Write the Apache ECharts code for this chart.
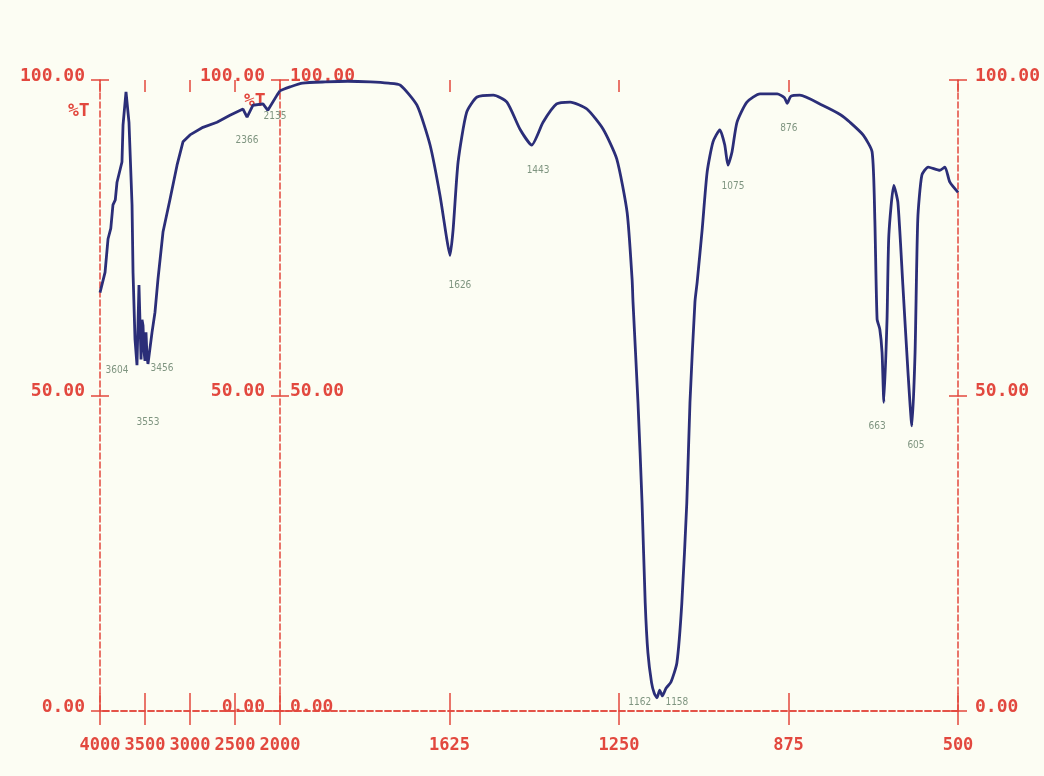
<!DOCTYPE html>
<html>
<head>
<meta charset="utf-8">
<script src="https://cdn.jsdelivr.net/npm/echarts@6/dist/echarts.min.js"></script>
<style>
  html, body { margin: 0; padding: 0; background: #fcfdf3; }
  #main { width: 1044px; height: 776px; }
</style>
</head>
<body>
<div id="main"></div>
<script>
// wavenumber (cm-1) / %T, 4000-2000 part (compressed scale)
var highWn = [4000, 3944, 3911, 3880, 3856, 3830, 3811, 3756, 3744, 3711, 3678, 3644, 3633, 3611, 3589, 3567, 3544, 3533, 3522, 3511, 3500, 3489, 3478, 3467, 3456, 3422, 3389, 3356, 3300, 3222, 3144, 3078, 3000, 2856, 2700, 2556, 2411, 2366, 2300, 2189, 2135, 2033, 2000];
var highT  = [66.3, 69.5, 74.8, 76.5, 80.2, 81.0, 83.8, 87.0, 92.9, 98.1, 93.3, 80.2, 69.5, 58.9, 54.8, 67.5, 55.7, 62.0, 61.1, 57.0, 55.5, 60.0, 56.3, 55.0, 54.8, 60.0, 63.2, 68.4, 75.9, 81.1, 86.5, 90.2, 91.3, 92.5, 93.3, 94.4, 95.4, 94.1, 96.0, 96.2, 95.2, 97.6, 98.3];
// 2000-500 part
var lowWn = [2000, 1978, 1950, 1900, 1850, 1800, 1760, 1734, 1697, 1668, 1646, 1631, 1624, 1617, 1606, 1587, 1564, 1528, 1498, 1469, 1443, 1418, 1388, 1358, 1321, 1285, 1255, 1232, 1221, 1219, 1208, 1199, 1192, 1186, 1178, 1172, 1166, 1160, 1154, 1146, 1135, 1122, 1111, 1100, 1093, 1082, 1077, 1066, 1055, 1042, 1027, 1016, 1009, 1000, 989, 967, 938, 900, 884, 878, 870, 850, 800, 760, 739, 710, 690, 684, 679, 673, 668, 664, 657, 653, 642, 633, 622, 611, 602, 595, 589, 580, 566, 540, 529, 518, 500];
var lowT  = [98.3, 98.9, 99.5, 99.7, 99.8, 99.7, 99.5, 99.2, 96.0, 89.7, 81.7, 74.8, 72.2, 76.3, 87.0, 94.9, 97.3, 97.6, 96.5, 92.2, 89.7, 93.3, 96.2, 96.5, 95.4, 92.2, 87.5, 79.0, 68.4, 64.8, 48.9, 33.0, 17.1, 9.2, 4.5, 2.8, 2.1, 3.3, 2.4, 3.6, 4.6, 7.6, 17.1, 33.0, 48.9, 64.8, 68.0, 76.3, 85.4, 90.2, 92.1, 89.7, 86.5, 88.6, 93.3, 96.5, 97.8, 97.8, 97.2, 96.3, 97.4, 97.6, 96.0, 94.5, 93.3, 91.3, 88.6, 77.9, 62.1, 60.5, 56.8, 48.9, 62.1, 75.4, 83.3, 80.6, 67.5, 54.1, 45.2, 56.8, 77.9, 84.9, 86.2, 85.7, 86.2, 83.8, 82.2];

var highTicks = [4000, 3500, 3000, 2500, 2000];
var lowTicks = [2000, 1625, 1250, 875, 500];
var lowLabels = [1625, 1250, 875, 500];
var yTicks = [0, 50, 100];

// peak annotations written on the chart: text, where it sits (cm-1, %T)
var peakText = ['3604', '3553', '3456', '2366', '2135', '1626', '1443', '1075', '876', '663', '605', '1162', '1158'];
var peakWn   = [3811, 3467, 3311, 2367, 2056, 1602, 1429, 998, 874, 679, 593, 1204, 1122];
var peakT    = [54.0, 45.7, 54.3, 90.5, 94.3, 67.5, 85.7, 83.2, 92.4, 45.1, 42.1, 1.3, 1.3];

var red = '#e2483e';
var ink = '#2b2e78';
var pencil = '#7f9580';
var xFont = { fontFamily: 'DejaVu Sans Mono', fontWeight: 'bold', fontSize: 17, color: red };
var yFont = { fontFamily: 'DejaVu Sans Mono', fontWeight: 'bold', fontSize: 18, color: red };
var dashLine = { show: true, lineStyle: { color: red, width: 1.5, type: [6, 3] } };

function pairs(xs, ys) {
  var out = [];
  for (var i = 0; i < xs.length; i++) out.push([xs[i], ys[i]]);
  return out;
}
function marks(lo, hi) {
  var out = [];
  for (var i = 0; i < peakText.length; i++) {
    if (peakWn[i] >= lo && peakWn[i] <= hi) out.push({ name: peakText[i], coord: [peakWn[i], peakT[i]] });
  }
  return out;
}

function xAx(grid, min, max, ticks, pos, inside, len, labels, line) {
  return {
    type: 'value', gridIndex: grid, min: min, max: max, inverse: true, position: pos,
    splitLine: { show: false },
    axisLine: line ? dashLine : { show: false },
    axisTick: { show: true, inside: inside, length: len, customValues: ticks, lineStyle: { color: red, width: 1.5 } },
    axisLabel: labels ? Object.assign({
      show: true, margin: 26, customValues: labels, hideOverlap: false, interval: 0,
      showMinLabel: true, showMaxLabel: true,
      formatter: function (v) { return String(v); }
    }, xFont) : { show: false }
  };
}
function yAx(grid, pos, inside, len, labelMargin, line) {
  return {
    type: 'value', gridIndex: grid, min: 0, max: 100, position: pos,
    splitLine: { show: false },
    axisLine: line ? dashLine : { show: false },
    axisTick: { show: true, inside: inside, length: len, customValues: yTicks, lineStyle: { color: red, width: 1.5 } },
    axisLabel: labelMargin != null ? Object.assign({
      show: true, margin: labelMargin, customValues: yTicks, verticalAlign: 'bottom', lineHeight: 8,
      showMinLabel: true, showMaxLabel: true,
      formatter: function (v) { return v.toFixed(2); }
    }, yFont) : { show: false }
  };
}

var myChart = echarts.init(document.getElementById('main'));
var option = {
  backgroundColor: '#fcfdf3',
  animation: false,
  grid: [
    { left: 100, top: 80, width: 180, height: 631 },
    { left: 280, top: 80, width: 678, height: 631 }
  ],
  xAxis: [
    xAx(0, 2000, 4000, highTicks, 'bottom', false, 14, highTicks, true),
    xAx(0, 2000, 4000, highTicks, 'bottom', true, 14, null, false),
    xAx(0, 2000, 4000, highTicks, 'top', false, 18, null, true),
    xAx(0, 2000, 4000, highTicks, 'top', true, 12, null, false),
    xAx(1, 500, 2000, lowTicks, 'bottom', false, 14, lowLabels, true),
    xAx(1, 500, 2000, lowTicks, 'bottom', true, 14, null, false),
    xAx(1, 500, 2000, lowTicks, 'top', false, 18, null, true),
    xAx(1, 500, 2000, lowTicks, 'top', true, 12, null, false)
  ],
  yAxis: [
    yAx(0, 'left', false, 9, 15, true),
    yAx(0, 'left', true, 9, null, false),
    yAx(0, 'right', false, 9, 10, false),
    yAx(1, 'left', false, 9, 15, true),
    yAx(1, 'right', false, 9, 17, true),
    yAx(1, 'right', true, 9, null, false)
  ],
  graphic: [
    { type: 'text', left: 68, top: 102, style: { text: '%T', fill: red, font: 'bold 18px DejaVu Sans Mono' } },
    { type: 'text', left: 244, top: 92, style: { text: '%T', fill: red, font: 'bold 18px DejaVu Sans Mono' } }
  ],
  series: [
    {
      type: 'line', xAxisIndex: 0, yAxisIndex: 0, data: pairs(highWn, highT),
      showSymbol: false, lineStyle: { color: ink, width: 2.8 },
      markPoint: {
        symbolSize: 0, data: marks(2000, 4000),
        label: { show: true, position: 'inside', formatter: '{b}', color: pencil, fontSize: 10, fontFamily: 'DejaVu Sans Condensed' }
      }
    },
    {
      type: 'line', xAxisIndex: 4, yAxisIndex: 3, data: pairs(lowWn, lowT),
      showSymbol: false, smooth: 0.2, lineStyle: { color: ink, width: 2.8 },
      markPoint: {
        symbolSize: 0, data: marks(500, 1999),
        label: { show: true, position: 'inside', formatter: '{b}', color: pencil, fontSize: 10, fontFamily: 'DejaVu Sans Condensed' }
      }
    }
  ]
};
myChart.setOption(option);
</script>
</body>
</html>
